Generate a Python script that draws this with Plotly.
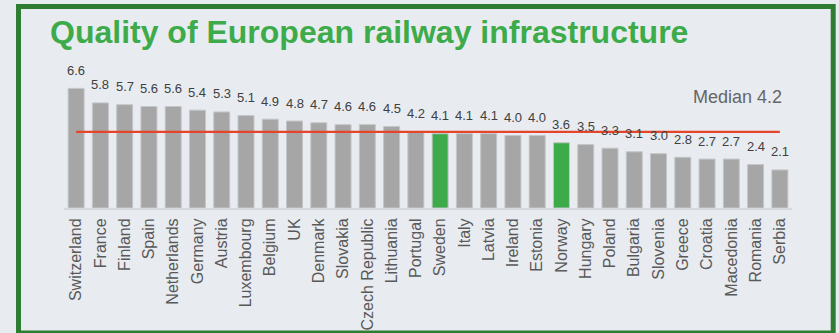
import plotly.graph_objects as go

# Railway infrastructure quality scores by country
countries = ["Switzerland", "France", "Finland", "Spain", "Netherlands", "Germany",
             "Austria", "Luxembourg", "Belgium", "UK", "Denmark", "Slovakia",
             "Czech Republic", "Lithuania", "Portugal", "Sweden", "Italy", "Latvia",
             "Ireland", "Estonia", "Norway", "Hungary", "Poland", "Bulgaria",
             "Slovenia", "Greece", "Croatia", "Macedonia", "Romania", "Serbia"]
scores = [6.6, 5.8, 5.7, 5.6, 5.6, 5.4, 5.3, 5.1, 4.9, 4.8, 4.7, 4.6, 4.6, 4.5, 4.2,
          4.1, 4.1, 4.1, 4.0, 4.0, 3.6, 3.5, 3.3, 3.1, 3.0, 2.8, 2.7, 2.7, 2.4, 2.1]
highlighted = ["Sweden", "Norway"]
median_value = 4.2

W, H = 839, 333
ML, MR, MT, MB = 64, 47, 63, 125
BG = "#e8ebf0"
GREY = "#a6a6a6"
GREEN = "#3dab4a"
FONT = "Arial, Liberation Sans, sans-serif"

bar_colors = [GREEN if c in highlighted else GREY for c in countries]

fig = go.Figure()
fig.add_trace(go.Bar(
    x=countries, y=scores, marker_color=bar_colors,
    marker_line_color="#c4c6c9", marker_line_width=1,
    width=0.66, hoverinfo="x+y",
))
fig.add_trace(go.Scatter(
    x=[countries[0], countries[-1]], y=[median_value, median_value],
    mode="lines", line=dict(color="#e5452a", width=2.2), hoverinfo="skip",
))

annotations = []
for c, v in zip(countries, scores):
    annotations.append(dict(
        x=c, y=v, xref="x", yref="y", text=f"{v:.1f}", showarrow=False,
        yanchor="middle", yshift=18, font=dict(family=FONT, size=13, color="#404040"),
    ))
annotations.append(dict(
    x=countries[-1], y=median_value, xref="x", yref="y",
    text=f"Median {median_value:.1f}", showarrow=False,
    xanchor="right", yanchor="middle", xshift=4, yshift=35,
    font=dict(family=FONT, size=18, color="#666666"),
))

# outer frame drawn in paper coordinates derived from pixel positions
pw, ph = W - ML - MR, H - MT - MB
def px_x(p):
    return (p - ML) / pw
def px_y(p):
    return (H - MB - p) / ph

fig.add_shape(type="rect", xref="paper", yref="paper",
              x0=px_x(18.5), x1=px_x(833.2), y0=px_y(333), y1=px_y(6.5),
              line=dict(color="#2e7d32", width=5), fillcolor="rgba(0,0,0,0)", layer="above")

fig.update_layout(
    width=W, height=H,
    margin=dict(l=ML, r=MR, t=MT, b=MB, autoexpand=False),
    paper_bgcolor=BG, plot_bgcolor=BG,
    showlegend=False,
    bargap=0.34,
    title=dict(
        text="<b>Quality of European railway infrastructure</b>",
        x=50 / W, xanchor="left", xref="container",
        y=1 - 31.5 / H, yanchor="middle", yref="container",
        font=dict(family=FONT, size=32, color=GREEN),
    ),
    xaxis=dict(
        showgrid=False, tickangle=-90, showline=True, linecolor="#d6d8db", linewidth=2,
        tickfont=dict(family=FONT, size=16, color="#595959"), ticks="",
        ticklabelstandoff=2, automargin=False,
    ),
    yaxis=dict(range=[0, 8], visible=False, showgrid=False, automargin=False),
    annotations=annotations,
)

fig.write_html("out.html")
